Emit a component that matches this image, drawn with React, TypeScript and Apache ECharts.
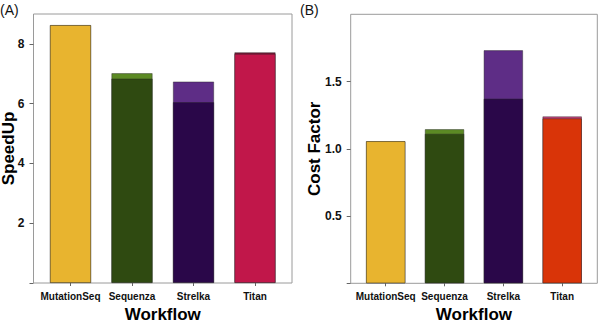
import React, { useEffect, useRef } from "react";
import * as echarts from "echarts";

// Workflows compared in both panels
const workflows = ["MutationSeq", "Sequenza", "Strelka", "Titan"];

// Panel A: speed-up (full bar and inner/base bar)
const speedupTotal = [8.63, 7.02, 6.74, 7.72];
const speedupBase = [8.63, 6.84, 6.05, 7.67];

// Panel B: cost factor (full bar and inner/base bar)
const costTotal = [1.057, 1.146, 1.733, 1.241];
const costBase = [1.057, 1.112, 1.373, 1.226];

// Tick values
const speedupTicks = [0, 2, 4, 6, 8];
const speedupLabels = [2, 4, 6, 8];
const costTicks = [0, 0.5, 1, 1.5];
const costLabels = [0.5, 1, 1.5];

// Fill colours
const speedupBaseColors = ["#E8B42F", "#2F4A11", "#2A0749", "#C1174A"];
const speedupTopColors = ["#E8B42F", "#5C8A24", "#5E2D86", "#7E1636"];
const costBaseColors = ["#E8B42F", "#2F4A11", "#2A0749", "#D93408"];
const costTopColors = ["#E8B42F", "#5C8A24", "#5E2D86", "#C2427A"];

const FONT = "'Liberation Sans', Arial, Helvetica, sans-serif";
const FRAME = "#9a9a9a";
const TICK = "#666";
const BAR_BORDER = "rgba(40,40,40,0.55)";
const TITLE_STYLE = {
  fontFamily: FONT,
  fontWeight: "bold",
  fontSize: 17,
  lineHeight: 17,
  color: "#000",
};

function App() {
  const ref = useRef<HTMLDivElement>(null);

  useEffect(() => {
    if (!ref.current) return;
    const chart = echarts.init(ref.current, undefined, { renderer: "svg" });

    const frameGrid = (left: number, top: number, width: number, height: number) => ({
      left,
      top,
      width,
      height,
      containLabel: false,
      outerBoundsMode: "none",
      show: true,
      borderColor: FRAME,
      borderWidth: 1,
      backgroundColor: "#fff",
    });
    const barGrid = (left: number, top: number, width: number, height: number) => ({
      left,
      top,
      width,
      height,
      containLabel: false,
      outerBoundsMode: "none",
      show: false,
    });

    const hiddenX = (gridIndex: number) => ({
      type: "value",
      gridIndex,
      show: false,
      min: 0,
      max: 1,
    });
    const catX = (gridIndex: number) => ({
      type: "category",
      gridIndex,
      data: workflows,
      name: "Workflow",
      nameLocation: "middle",
      nameGap: 18,
      nameTextStyle: TITLE_STYLE,
      axisLine: { show: false },
      axisTick: { show: true, alignWithLabel: true, length: 3, lineStyle: { color: TICK } },
      axisLabel: {
        margin: 8,
        fontFamily: FONT,
        fontWeight: "bold",
        fontSize: 10,
        color: "#111",
        interval: 0,
      },
      splitLine: { show: false },
    });
    const valueY = (
      gridIndex: number,
      max: number,
      name: string,
      ticks: number[],
      labels: number[],
      nameGap: number,
      fmt: (v: number) => string
    ) => ({
      type: "value",
      gridIndex,
      min: 0,
      max,
      name,
      nameLocation: "middle",
      nameGap,
      nameMoveOverlap: false,
      nameTextStyle: TITLE_STYLE,
      axisLine: { show: false },
      axisTick: {
        show: true,
        length: 4,
        customValues: ticks,
        lineStyle: { color: TICK },
      },
      axisLabel: {
        margin: 9,
        customValues: labels,
        fontFamily: FONT,
        fontWeight: "bold",
        fontSize: 12,
        color: "#111",
        formatter: (v: number) => fmt(v),
      },
      splitLine: { show: false },
    });
    const hiddenY = (gridIndex: number, max: number) => ({
      type: "value",
      gridIndex,
      min: 0,
      max,
      show: false,
      splitLine: { show: false },
    });

    const barSeries = (
      axisIndex: number,
      values: number[],
      colors: string[],
      z: number,
      gap?: string
    ) => ({
      type: "bar",
      xAxisIndex: axisIndex,
      yAxisIndex: axisIndex,
      barWidth: "67%",
      ...(gap ? { barGap: gap } : {}),
      z,
      data: values.map((v, i) => ({
        value: v,
        itemStyle: { color: colors[i], borderColor: BAR_BORDER, borderWidth: 0.8 },
      })),
      emphasis: { disabled: true },
    });

    chart.setOption({
      animation: false,
      backgroundColor: "#fff",
      grid: [
        frameGrid(33.5, 14, 258.5, 269),
        barGrid(39.75, 14, 246, 269),
        frameGrid(350.7, 14.3, 246.6, 269),
        barGrid(356.3, 14.3, 235.3, 269),
      ],
      xAxis: [hiddenX(0), catX(1), hiddenX(2), catX(3)],
      yAxis: [
        valueY(0, 9, "SpeedUp", speedupTicks, speedupLabels, 17, (v) => String(v)),
        hiddenY(1, 9),
        valueY(2, 2, "Cost Factor", costTicks, costLabels, 28, (v) => v.toFixed(1)),
        hiddenY(3, 2),
      ],
      series: [
        barSeries(1, speedupTotal, speedupTopColors, 2),
        barSeries(1, speedupBase, speedupBaseColors, 3, "-100%"),
        barSeries(3, costTotal, costTopColors, 2),
        barSeries(3, costBase, costBaseColors, 3, "-100%"),
      ],
      graphic: [
        {
          type: "text",
          left: 0,
          top: 3,
          style: { text: "(A)", fontFamily: FONT, fontSize: 14, fill: "#111" },
        },
        {
          type: "text",
          left: 300,
          top: 3,
          style: { text: "(B)", fontFamily: FONT, fontSize: 14, fill: "#111" },
        },
      ],
    });

    return () => chart.dispose();
  }, []);

  return (
    <div
      ref={ref}
      style={{ position: "fixed", left: 0, top: 0, width: 600, height: 323, background: "#fff" }}
    />
  );
}

export default App;
